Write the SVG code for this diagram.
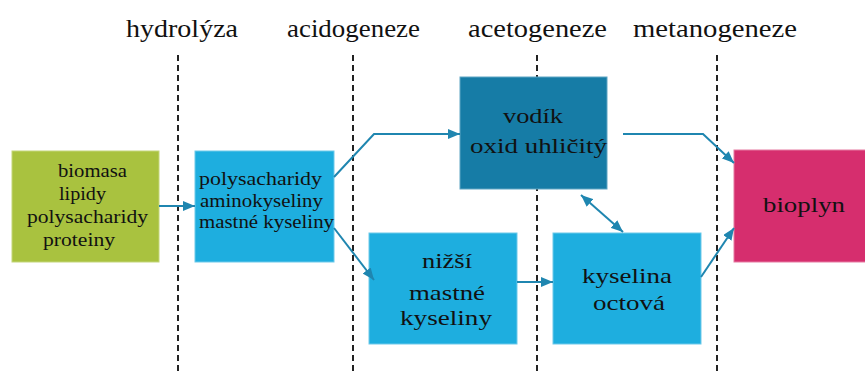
<svg xmlns="http://www.w3.org/2000/svg" width="865" height="374" viewBox="0 0 865 374" font-family="'Liberation Serif', 'Times New Roman', serif">
<defs>
<style>
text{font-family:'Liberation Serif','Times New Roman',serif;fill:#111}
.t{font-size:25px}
.b{font-size:22px}
.s{font-size:18px}
.dash{stroke:#222;stroke-width:2;stroke-dasharray:6 4;fill:none}
.c{stroke:#1f86b0;stroke-width:2;fill:none}
.box{stroke-width:1}
</style>
<marker id="ah" viewBox="0 0 12 10" refX="12" refY="5" markerWidth="12" markerHeight="10" markerUnits="userSpaceOnUse" orient="auto-start-reverse">
<path d="M0,0 L12,5 L0,10 z" fill="#1f86b0"/>
</marker>
</defs>
<rect width="865" height="374" fill="#fff"/>
<g id="phases">
<line class="dash" x1="178" y1="55" x2="178" y2="374"/>
<line class="dash" x1="353" y1="55" x2="353" y2="374"/>
<line class="dash" x1="537" y1="55" x2="537" y2="374"/>
<line class="dash" x1="717" y1="55" x2="717" y2="374"/>
<text class="t" x="126" y="37" textLength="112" lengthAdjust="spacingAndGlyphs">hydrolýza</text>
<text class="t" x="287" y="37" textLength="133" lengthAdjust="spacingAndGlyphs">acidogeneze</text>
<text class="t" x="468" y="37" textLength="139" lengthAdjust="spacingAndGlyphs">acetogeneze</text>
<text class="t" x="633" y="37" textLength="164" lengthAdjust="spacingAndGlyphs">metanogeneze</text>
</g>
<g id="biomasa">
<rect class="box" x="12" y="151" width="147" height="111" fill="#a9c23f" stroke="#c3d67a"/>
<text class="s" x="58" y="177" textLength="69" lengthAdjust="spacingAndGlyphs">biomasa</text>
<text class="s" x="59" y="200" textLength="47" lengthAdjust="spacingAndGlyphs">lipidy</text>
<text class="s" x="27" y="223" textLength="121" lengthAdjust="spacingAndGlyphs">polysacharidy</text>
<text class="s" x="43" y="246" textLength="72" lengthAdjust="spacingAndGlyphs">proteiny</text>
</g>
<g id="polysacharidy">
<rect class="box" x="195" y="151" width="139" height="111" fill="#1eaedf" stroke="#6cc9ea"/>
<text class="s" x="199" y="185" textLength="123" lengthAdjust="spacingAndGlyphs">polysacharidy</text>
<text class="s" x="200" y="207" textLength="123" lengthAdjust="spacingAndGlyphs">aminokyseliny</text>
<text class="s" x="199" y="228" textLength="135" lengthAdjust="spacingAndGlyphs">mastné kyseliny</text>
</g>
<g id="vodik">
<rect class="box" x="460" y="77" width="147" height="112" fill="#167ca6" stroke="#5fa5c3"/>
<text class="b" x="503" y="123" textLength="60" lengthAdjust="spacingAndGlyphs">vodík</text>
<text class="b" x="470" y="153" textLength="137" lengthAdjust="spacingAndGlyphs">oxid uhličitý</text>
</g>
<g id="nizsi">
<rect class="box" x="369" y="233" width="148" height="111" fill="#1eaedf" stroke="#6cc9ea"/>
<text class="b" x="422" y="268" textLength="50" lengthAdjust="spacingAndGlyphs">nižší</text>
<text class="b" x="409" y="300" textLength="76" lengthAdjust="spacingAndGlyphs">mastné</text>
<text class="b" x="400" y="325" textLength="92" lengthAdjust="spacingAndGlyphs">kyseliny</text>
</g>
<g id="kyselina">
<rect class="box" x="553" y="233" width="148" height="111" fill="#1eaedf" stroke="#6cc9ea"/>
<text class="b" x="582" y="283" textLength="90" lengthAdjust="spacingAndGlyphs">kyselina</text>
<text class="b" x="593" y="310" textLength="72" lengthAdjust="spacingAndGlyphs">octová</text>
</g>
<g id="bioplyn">
<rect class="box" x="734" y="150" width="132" height="112" fill="#d62e6e" stroke="#e67aa2"/>
<text class="b" x="763" y="212" textLength="82" lengthAdjust="spacingAndGlyphs">bioplyn</text>
</g>
<g id="connectors">
<path class="c" d="M159,206 L195,206" marker-end="url(#ah)"/>
<path class="c" d="M334,177 L374,134 L460,134" marker-end="url(#ah)"/>
<path class="c" d="M334,228 L374,280" marker-end="url(#ah)"/>
<path class="c" d="M517,282 L553,282" marker-end="url(#ah)"/>
<path class="c" d="M623,134 L703,134 L734,163" marker-end="url(#ah)"/>
<path class="c" d="M701,277 L734,228" marker-end="url(#ah)"/>
<path class="c" d="M581,195 L623,232" marker-start="url(#ah)" marker-end="url(#ah)"/>
</g>
</svg>
